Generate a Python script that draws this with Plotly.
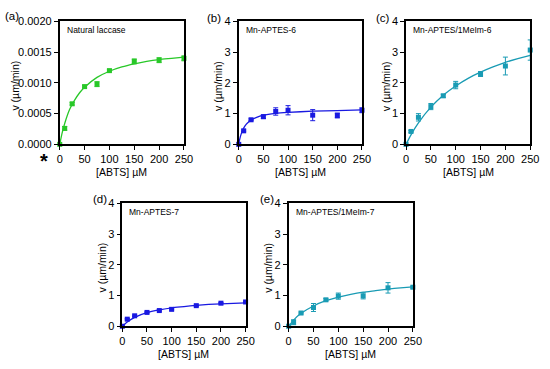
import plotly.graph_objects as go

W, H = 550, 369

# ---- data ----
x_pts = [0, 10, 25, 50, 75, 100, 150, 200, 250]

a_y = [0, 0.00026, 0.00066, 0.00094, 0.00098, 0.00120, 0.00135, 0.00137, 0.00140]
a_err = [0, 0.00003, 0.00002, 0.00002, 0.00004, 0.00002, 0.00004, 0.00004, 0.00004]
a_cx = [0, 5, 10, 20, 30, 40, 50, 75, 100, 125, 150, 175, 200, 225, 250]
a_cy = [0, 0.00019, 0.00034, 0.00057, 0.00072, 0.00084, 0.00093, 0.00109, 0.00119,
        0.00126, 0.00131, 0.00135, 0.00138, 0.00140, 0.00142]

b_y = [0, 0.44, 0.80, 0.90, 1.07, 1.11, 0.95, 0.94, 1.11]
b_err = [0, 0.03, 0.03, 0.06, 0.12, 0.15, 0.18, 0.08, 0.08]
b_cx = [0, 2, 5, 10, 15, 20, 25, 35, 50, 75, 100, 150, 200, 250]
b_cy = [0, 0.17, 0.34, 0.53, 0.65, 0.73, 0.79, 0.87, 0.95, 1.01, 1.04, 1.08, 1.10, 1.12]

c_y = [0, 0.42, 0.88, 1.23, 1.58, 1.93, 2.29, 2.55, 3.07]
c_err = [0, 0.03, 0.12, 0.10, 0.05, 0.12, 0.08, 0.29, 0.33]
c_cx = [0, 10, 25, 50, 75, 100, 125, 150, 175, 200, 225, 250]
c_cy = [0, 0.31, 0.70, 1.21, 1.60, 1.90, 2.15, 2.35, 2.52, 2.67, 2.79, 2.90]

d_y = [0, 0.23, 0.34, 0.45, 0.51, 0.55, 0.67, 0.75, 0.79]
d_err = [0, 0.02, 0.02, 0.02, 0.02, 0.02, 0.02, 0.02, 0.02]
d_cx = [0, 10, 25, 50, 75, 100, 125, 150, 175, 200, 225, 250]
d_cy = [0, 0.14, 0.29, 0.44, 0.53, 0.60, 0.64, 0.68, 0.71, 0.73, 0.745, 0.76]

e_y = [0, 0.13, 0.43, 0.61, 0.86, 0.98, 0.99, 1.25, 1.27]
e_err = [0, 0.08, 0.03, 0.13, 0.04, 0.10, 0.10, 0.17, 0.03]
e_cx = [0, 10, 25, 50, 75, 100, 125, 150, 175, 200, 225, 250]
e_cy = [0, 0.20, 0.42, 0.66, 0.83, 0.95, 1.04, 1.11, 1.16, 1.21, 1.25, 1.28]

panel_names = ["Natural laccase", "Mn-APTES-6", "Mn-APTES/1MeIm-6",
               "Mn-APTES-7", "Mn-APTES/1MeIm-7"]
panel_tags = ["(a)", "(b)", "(c)", "(d)", "(e)"]
x_ticks = [0, 50, 100, 150, 200, 250]
y_ticks_a = [0, 0.0005, 0.0010, 0.0015, 0.0020]
y_ticks_a_text = ["0.0000", "0.0005", "0.0010", "0.0015", "0.0020"]
y_ticks_v = [0, 1, 2, 3, 4]

GREEN = "rgb(40,200,40)"
BLUE = "rgb(25,25,225)"
TEAL = "rgb(25,155,180)"

# ---- layout boxes in pixels (left, right, top, bottom) ----
boxes = [(58, 185, 16, 143), (241, 367, 16, 143), (412, 539, 16, 143),
         (122, 248, 204, 331), (292, 419, 204, 331)]

series = [(a_y, a_err, a_cx, a_cy, GREEN),
          (b_y, b_err, b_cx, b_cy, BLUE),
          (c_y, c_err, c_cx, c_cy, TEAL),
          (d_y, d_err, d_cx, d_cy, BLUE),
          (e_y, e_err, e_cx, e_cy, TEAL)]

FONT = "Liberation Sans, Arial, Helvetica, sans-serif"

def px(x):
    return x / W

def py(y):
    return 1 - y / H

fig = go.Figure()
layout = {}
annotations = []

for i, ((ys, errs, cx, cy, col), (l, r, t, b)) in enumerate(zip(series, boxes)):
    n = i + 1
    xa = "x" if n == 1 else f"x{n}"
    ya = "y" if n == 1 else f"y{n}"
    fig.add_trace(go.Scatter(x=cx, y=cy, xaxis=xa, yaxis=ya, mode="lines",
                             line=dict(color=col, width=1.3, shape="spline", smoothing=0.6),
                             showlegend=False, hoverinfo="skip", cliponaxis=False))
    fig.add_trace(go.Scatter(x=x_pts, y=ys, xaxis=xa, yaxis=ya, mode="markers",
                             marker=dict(color=col, size=5, symbol="square"),
                             error_y=dict(type="data", array=errs, color=col,
                                          thickness=1, width=2.5),
                             showlegend=False, cliponaxis=False))
    if i == 0:
        yr = [0, 0.002]
        ytv, ytt = y_ticks_a, y_ticks_a_text
    else:
        yr = [0, 4]
        ytv, ytt = y_ticks_v, [str(v) for v in y_ticks_v]
    axis_common = dict(showline=True, linecolor="black", linewidth=1.6, mirror=True,
                       ticks="outside", ticklen=4, tickwidth=1.2, tickcolor="black",
                       showgrid=False, zeroline=False,
                       tickfont=dict(family=FONT, size=11, color="black"))
    layout["xaxis" if n == 1 else f"xaxis{n}"] = dict(
        domain=[px(l), px(r)], range=[0, 250], tickvals=x_ticks,
        anchor=ya, **axis_common)
    layout["yaxis" if n == 1 else f"yaxis{n}"] = dict(
        domain=[py(b), py(t)], range=yr, tickvals=ytv, ticktext=ytt,
        anchor=xa, **axis_common)

    # axis titles
    annotations.append(dict(x=px((l + r) / 2), y=py(b + 29), xref="paper", yref="paper",
                            text="[ABTS] µM", showarrow=False,
                            font=dict(family=FONT, size=10.5, color="black"),
                            xanchor="center", yanchor="middle"))
    ytx = l - (46 if i == 0 else 21)
    annotations.append(dict(x=px(ytx), y=py((t + b) / 2 + 3), xref="paper", yref="paper",
                            text="v (µm/min)", showarrow=False, textangle=-90,
                            font=dict(family=FONT, size=10.5, color="black"),
                            xanchor="center", yanchor="middle"))
    # inner label
    annotations.append(dict(x=px(l + 5), y=py(t + 9), xref="paper", yref="paper",
                            text=panel_names[i], showarrow=False,
                            font=dict(family=FONT, size=8.5, color="black"),
                            xanchor="left", yanchor="middle"))

tag_pos = [(1, 10), (208, 12), (380, 12), (91, 200), (262, 200)]
for tag, (tx, ty) in zip(panel_tags, tag_pos):
    annotations.append(dict(x=px(tx), y=py(ty), xref="paper", yref="paper",
                            text=tag, showarrow=False, borderpad=0,
                            font=dict(family=FONT, size=11.5, color="black"),
                            xanchor="left", yanchor="middle"))

annotations.append(dict(x=px(42), y=py(160), xref="paper", yref="paper",
                        text="<b>*</b>", showarrow=False,
                        font=dict(family=FONT, size=20, color="black"),
                        xanchor="center", yanchor="middle"))

fig.update_layout(width=W, height=H, margin=dict(l=0, r=0, t=0, b=0),
                  paper_bgcolor="white", plot_bgcolor="white",
                  annotations=annotations, **layout)

fig.write_html("out.html", config={"displayModeBar": False},
               post_script="document.body.style.margin='0';document.body.style.padding='0';")
